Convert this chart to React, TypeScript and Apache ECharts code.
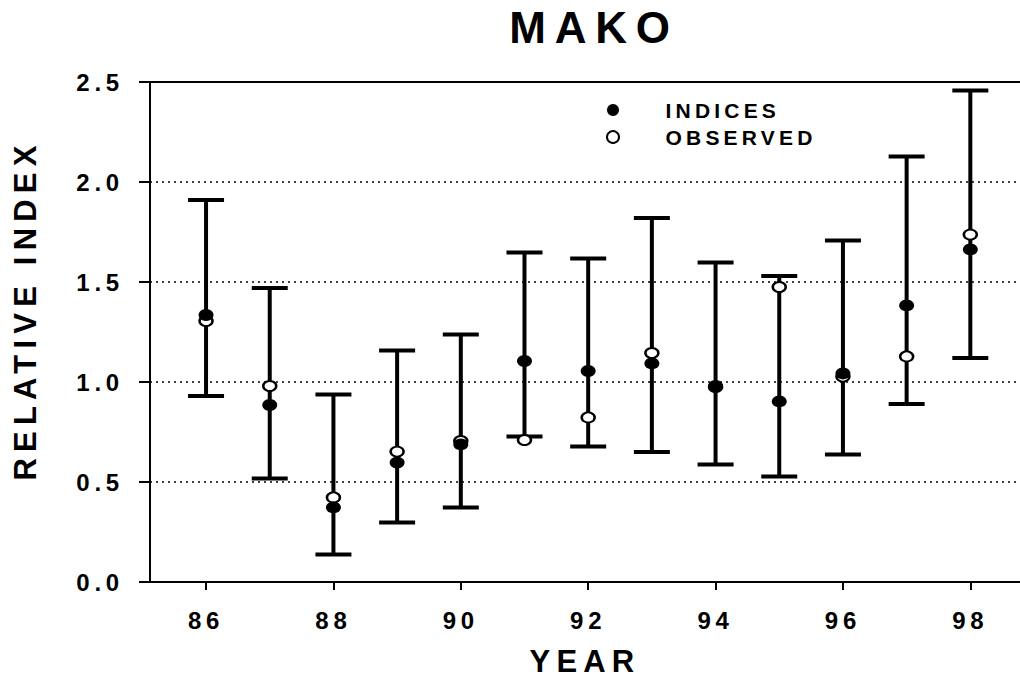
import React, { useEffect, useRef } from "react";
import * as echarts from "echarts";

const years = [86, 87, 88, 89, 90, 91, 92, 93, 94, 95, 96, 97, 98];
const indices = [1.335, 0.885, 0.373, 0.597, 0.688, 1.105, 1.055, 1.093, 0.98, 0.903, 1.043, 1.383, 1.663];
const observed = [1.305, 0.98, 0.423, 0.652, 0.705, 0.71, 0.823, 1.145, 0.975, 1.475, 1.027, 1.128, 1.737];
const lower = [0.93, 0.517, 0.138, 0.298, 0.372, 0.728, 0.678, 0.65, 0.588, 0.528, 0.638, 0.89, 1.12];
const upper = [1.91, 1.47, 0.938, 1.158, 1.238, 1.648, 1.618, 1.82, 1.598, 1.53, 1.708, 2.128, 2.458];
const xTickValues = [86, 88, 90, 92, 94, 96, 98];
const xMin = 85.12;
const xMax = 98.78;
const yMin = 0;
const yMax = 2.5;
const yInterval = 0.5;

const FONT = "'Liberation Sans', Arial, Helvetica, sans-serif";

export default function App() {
  const ref = useRef<HTMLDivElement>(null);

  useEffect(() => {
    const chart = echarts.init(ref.current!, null, { renderer: "svg" });
    const axisLineStyle = { color: "#000", width: 2 };
    chart.setOption({
      animation: false,
      backgroundColor: "#fff",
      title: {
        text: "MAKO",
        left: 589,
        top: 0,
        textAlign: "center",
        textStyle: { fontFamily: FONT, fontWeight: "bold", fontSize: 44, color: "#000" },
      },
      legend: {
        orient: "vertical",
        left: 601,
        top: 94,
        itemWidth: 15,
        itemHeight: 12,
        itemGap: 5,
        selectedMode: false,
        data: ["INDICES", "OBSERVED"],
        textStyle: {
          fontFamily: FONT,
          fontWeight: "bold",
          fontSize: 21,
          lineHeight: 22,
          color: "#000",
          padding: [0, 0, 0, 40],
        },
      },
      grid: { left: 150, right: 0, top: 82, bottom: 97, containLabel: false, outerBoundsMode: "none" },
      xAxis: [
        {
          type: "value",
          min: xMin,
          max: xMax,
          axisLine: { show: true, lineStyle: axisLineStyle },
          axisTick: { show: true, customValues: xTickValues, length: 8, lineStyle: axisLineStyle },
          axisLabel: {
            customValues: xTickValues,
            margin: 26,
            fontFamily: FONT,
            fontWeight: "bold",
            fontSize: 24,
            color: "#000",
          },
          splitLine: { show: false },
          name: "YEAR",
          nameLocation: "middle",
          nameGap: 65,
          nameTextStyle: { fontFamily: FONT, fontWeight: "bold", fontSize: 31, lineHeight: 28, color: "#000" },
        },
        {
          type: "value",
          position: "top",
          min: xMin,
          max: xMax,
          axisLine: { show: true, onZero: false, lineStyle: axisLineStyle },
          axisTick: { show: false },
          axisLabel: { show: false },
          splitLine: { show: false },
        },
      ],
      yAxis: {
        type: "value",
        min: yMin,
        max: yMax,
        interval: yInterval,
        axisLine: { show: true, lineStyle: axisLineStyle },
        axisTick: { show: true, length: 11, lineStyle: axisLineStyle },
        axisLabel: {
          margin: 26,
          formatter: (v: number) => v.toFixed(1),
          fontFamily: FONT,
          fontWeight: "bold",
          fontSize: 24,
          color: "#000",
        },
        splitLine: { show: true, lineStyle: { type: [2, 4], color: "#000", width: 1.6 } },
      },
      graphic: [
        {
          type: "text",
          x: 25,
          y: 310,
          rotation: Math.PI / 2,
          style: {
            text: "RELATIVE INDEX",
            font: `bold 31px ${FONT}`,
            textAlign: "center",
            textVerticalAlign: "middle",
            fill: "#000",
          },
        },
      ],
      series: [
        {
          type: "custom",
          name: "range",
          data: years.map((y, i) => [y, lower[i], upper[i]]),
          encode: { x: 0, y: [1, 2] },
          z: 1,
          renderItem: (params: any, api: any) => {
            const x = api.value(0);
            const lo = api.coord([x, api.value(1)]);
            const hi = api.coord([x, api.value(2)]);
            const hw = 18;
            const style = { stroke: "#000", lineWidth: 4, fill: "none" };
            return {
              type: "group",
              children: [
                { type: "line", shape: { x1: lo[0], y1: lo[1], x2: hi[0], y2: hi[1] }, style },
                { type: "line", shape: { x1: lo[0] - hw, y1: lo[1], x2: lo[0] + hw, y2: lo[1] }, style },
                { type: "line", shape: { x1: hi[0] - hw, y1: hi[1], x2: hi[0] + hw, y2: hi[1] }, style },
              ],
            };
          },
        },
        {
          type: "scatter",
          name: "OBSERVED",
          symbol: "circle",
          symbolSize: [13, 10],
          symbolKeepAspect: false,
          z: 2,
          itemStyle: { color: "#fff", borderColor: "#000", borderWidth: 2.2, opacity: 1 },
          data: years.map((y, i) => [y, observed[i]]),
        },
        {
          type: "scatter",
          name: "INDICES",
          symbol: "circle",
          symbolSize: [15, 12],
          symbolKeepAspect: false,
          z: 3,
          itemStyle: { color: "#000", opacity: 1 },
          data: years.map((y, i) => [y, indices[i]]),
        },
      ],
    });
    return () => chart.dispose();
  }, []);

  return (
    <>
      <style>{`body{margin:0} .mako-chart text{letter-spacing:0.2em}`}</style>
      <div className="mako-chart" ref={ref} style={{ width: 1020, height: 679 }} />
    </>
  );
}
